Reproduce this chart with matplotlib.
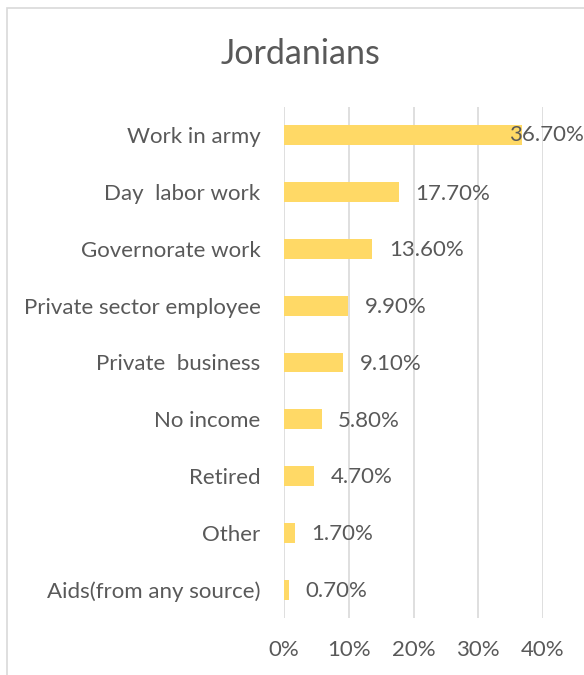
import matplotlib
matplotlib.use("Agg")
import matplotlib.pyplot as plt
from matplotlib.patches import Rectangle
from matplotlib.ticker import FuncFormatter
from matplotlib.transforms import blended_transform_factory

# Income source shares (percent)
categories = ["Work in army", "Day  labor work", "Governorate work",
              "Private sector employee", "Private  business", "No income",
              "Retired", "Other", "Aids(from any source)"]
values = [36.7, 17.7, 13.6, 9.9, 9.1, 5.8, 4.7, 1.7, 0.7]
x_ticks = [0, 10, 20, 30, 40]

plt.rcParams['font.family'] = ['Lato', 'DejaVu Sans']
text_color = '#595959'
bar_color = '#FFD966'
fs = 16

W, H = 584, 675
fig = plt.figure(figsize=(W / 100, H / 100), dpi=100)

# plot area in pixel coordinates
left, right, top, bottom = 284, 543, 107, 618
ax = fig.add_axes([left / W, (H - bottom) / H, (right - left) / W, (bottom - top) / H])

ypos = list(range(len(categories)))
ax.barh(ypos, values, height=0.35, color=bar_color, zorder=3)
ax.set_ylim(len(categories) - 0.5, -0.5)
ax.set_xlim(0, 40)
ax.set_xticks(x_ticks)
ax.xaxis.set_major_formatter(FuncFormatter(lambda v, p: f"{v:.0f}%"))
ax.set_yticks(ypos)
ax.set_yticklabels(categories)
ax.tick_params(axis='both', length=0, labelsize=fs, labelcolor=text_color)
ax.tick_params(axis='x', pad=16)
ax.tick_params(axis='y', pad=17)
ax.grid(axis='x', color='#D9D9D9', linewidth=1.2, zorder=0)
for s in ax.spines.values():
    s.set_visible(False)

# value labels next to each bar; the longest one is pulled back inside the frame
edge = blended_transform_factory(fig.transFigure, ax.transData)
for y, v in zip(ypos, values):
    if v > 30:
        ax.text(1.0, y, f"{v:.2f}%", transform=edge, ha='right', va='center',
                fontsize=fs, color=text_color, zorder=4)
    else:
        ax.annotate(f"{v:.2f}%", xy=(v, y), xytext=(12, -1), textcoords='offset points',
                    ha='left', va='center', fontsize=fs, color=text_color, zorder=4)

fig.text(300 / W, (H - 64) / H, "Jordanians", ha='center', va='baseline',
         fontsize=24.5, color=text_color)

# chart frame
fig.patches.append(Rectangle((7 / W, -0.1), 1.2, (H - 8) / H + 0.1, transform=fig.transFigure,
                             fill=False, edgecolor='#D9D9D9', linewidth=1.2))

fig.savefig("out.png", dpi=100)
